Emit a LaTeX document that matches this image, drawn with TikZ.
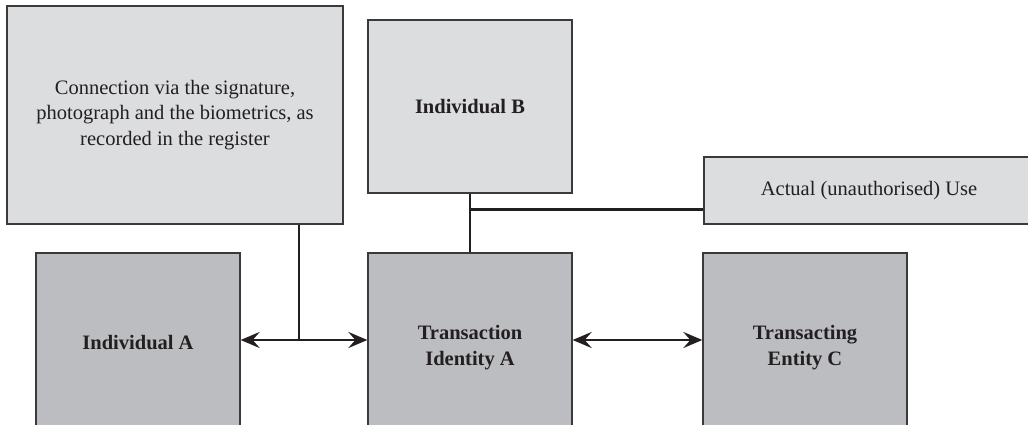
\documentclass[tikz,border=0pt]{standalone}
\usepackage{fontspec}
\setmainfont{Liberation Serif}
\usetikzlibrary{arrows.meta,calc}
\definecolor{lightbox}{HTML}{DCDDDF}
\definecolor{darkbox}{HTML}{BCBDC1}
\definecolor{edge}{HTML}{3A3A3C}
\definecolor{ink}{HTML}{231F20}
\tikzset{
  box/.style={draw=edge, line width=1.3pt, inner sep=0pt, align=center, text=ink,
    font=\fontsize{20.5}{25.5}\selectfont},
  light/.style={box, fill=lightbox},
  dark/.style={box, fill=darkbox, font=\fontsize{20.5}{26}\selectfont\bfseries},
  link/.style={draw=ink, line width=2.8pt},
  twoway/.style={link, {Stealth[length=19pt,width=16pt,inset=7pt]}-{Stealth[length=19pt,width=16pt,inset=7pt]}}
}
\begin{document}
\begin{tikzpicture}[x=1pt,y=-1pt]
\useasboundingbox (0,0) rectangle (1028,425);
\clip (0,0) rectangle (1028,425);
\node[light, minimum width=336pt, minimum height=218pt] (conn) at (175,115)
  {Connection via the signature,\\photograph and the biometrics, as\\recorded in the register};
\node[light, minimum width=204pt, minimum height=173pt, font=\fontsize{20.5}{25.5}\selectfont\bfseries] (indB) at (470,106.5) {Individual B};
\node[light, minimum width=330pt, minimum height=67pt] (use) at (869,190.5) {Actual (unauthorised) Use};
\node[dark, minimum width=204pt, minimum height=180pt] (indA) at (138,343) {Individual A};
\node[dark, minimum width=204pt, minimum height=190pt] (tia) at (470,348) {Transaction\\Identity A};
\node[dark, minimum width=204pt, minimum height=190pt] (tec) at (805,348) {Transacting\\Entity C};
% connectors
\draw[link] (indB.south) -- (tia.north);
\coordinate (bj) at ($(indB.south)!0.27!(tia.north)$);
\draw[link] (bj) -- (bj -| use.west);
\coordinate (aj) at (299,340);
\draw[twoway] (indA.east |- aj) -- (tia.west |- aj);
\draw[link] (aj |- conn.south) -- ([yshift=-1.4pt]aj);
\draw[twoway] (tia.east |- aj) -- (tec.west |- aj);
\end{tikzpicture}
\end{document}
